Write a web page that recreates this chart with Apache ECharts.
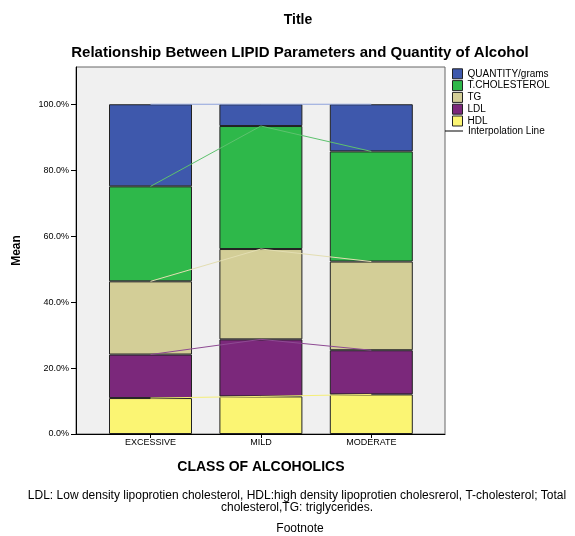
<!DOCTYPE html>
<html>
<head>
<meta charset="utf-8">
<script src="https://cdn.jsdelivr.net/npm/echarts@6/dist/echarts.min.js"></script>
<style>
  html, body { margin: 0; padding: 0; background: #fff; }
  #chart { width: 575px; height: 536px; }
</style>
</head>
<body>
<div id="chart"></div>
<script>
// values (percent of mean total)
const classes = ['EXCESSIVE', 'MILD', 'MODERATE'];
const hdl = [10.9, 11.4, 12.0];
const ldl = [13.2, 17.3, 13.4];
const tg = [22.2, 27.4, 26.9];
const tchol = [28.8, 37.3, 33.4];
const quantity = [24.9, 6.6, 14.3];
const yTicks = [0, 20, 40, 60, 80, 100];

const font = 'Liberation Sans, Arial, sans-serif';
const yMax = 111.3;

function barSeries(name, arr, color) {
    return {
        name: name,
        type: 'bar',
        stack: 'bars',
        barWidth: 83,
        xAxisIndex: 1, yAxisIndex: 1,
        data: arr,
        itemStyle: { color: color, borderColor: '#222', borderWidth: 1 }
    };
}

function lineSeries(arr, color) {
    return {
        name: 'Interpolation Line',
        type: 'line',
        stack: 'lines',
        symbol: 'none',
        xAxisIndex: 1, yAxisIndex: 1,
        data: arr,
        lineStyle: { color: color, width: 1 },
        itemStyle: { color: '#000' },
        z: 5
    };
}

let myChart = echarts.init(document.getElementById('chart'));
myChart.setOption({
    animation: false,
    textStyle: { fontFamily: font },
    title: [
        { text: 'Title', left: 293, top: 8, textAlign: 'center',
          textStyle: { fontSize: 14, fontWeight: 'bold', color: '#000', fontFamily: font } },
        { text: 'Relationship Between LIPID Parameters and Quantity of Alcohol', left: 295, top: 40, textAlign: 'center',
          textStyle: { fontSize: 15, fontWeight: 'bold', color: '#000', fontFamily: font } },
        { text: 'LDL: Low density lipoprotien cholesterol, HDL:high density lipoprotien cholesrerol, T-cholesterol; Total\ncholesterol,TG: triglycerides.',
          left: 292, top: 485, textAlign: 'center',
          textStyle: { fontSize: 12, fontWeight: 'normal', color: '#000', lineHeight: 12, align: 'center', fontFamily: font } },
        { text: 'Footnote', left: 295, top: 518, textAlign: 'center',
          textStyle: { fontSize: 12, fontWeight: 'normal', color: '#000', fontFamily: font } }
    ],
    legend: [
        {
            orient: 'vertical',
            left: 452, top: 68.3, padding: 0,
            itemWidth: 10, itemHeight: 10, itemGap: 0.8,
            icon: 'rect',
            itemStyle: { borderColor: '#222', borderWidth: 1 },
            textStyle: { fontSize: 10, lineHeight: 10, color: '#000' },
            data: ['QUANTITY/grams', 'T.CHOLESTEROL', 'TG', 'LDL', 'HDL']
        },
        {
            orient: 'vertical',
            left: 445, top: 126, padding: 0,
            itemWidth: 18, itemHeight: 1, itemGap: 0,
            textStyle: { fontSize: 10, lineHeight: 10, color: '#000' },
            data: [{ name: 'Interpolation Line', icon: 'rect', itemStyle: { color: '#000', borderWidth: 0 } }]
        }
    ],
    grid: [
        // frame with the grey background
        { left: 76, right: 130, top: 67, bottom: 102,
          show: true, backgroundColor: '#f0f0f0', borderColor: '#666', borderWidth: 1 },
        // data area, one category every 110.4 px
        { left: 95.3, width: 331.2, top: 67, bottom: 102 }
    ],
    xAxis: [
        {
            gridIndex: 0, type: 'value', min: 0, max: 1,
            axisLine: { show: true, onZero: false, lineStyle: { color: '#000' } },
            axisTick: { show: false }, axisLabel: { show: false }, splitLine: { show: false }
        },
        {
            gridIndex: 1, type: 'category', data: classes,
            name: 'CLASS OF ALCOHOLICS',
            nameLocation: 'middle',
            nameGap: 26,
            nameTextStyle: { fontSize: 14, fontWeight: 'bold', color: '#000' },
            axisLine: { show: false },
            axisTick: { show: true, alignWithLabel: true, length: 4, lineStyle: { color: '#000' } },
            axisLabel: { fontSize: 9, color: '#000', margin: 4 }
        }
    ],
    yAxis: [
        {
            gridIndex: 0, type: 'value',
            min: 0, max: yMax,
            name: 'Mean',
            nameLocation: 'middle',
            nameGap: 53,
            nameTextStyle: { fontSize: 12, fontWeight: 'bold', color: '#000' },
            splitLine: { show: false },
            axisLine: { show: true, onZero: false, lineStyle: { color: '#000' } },
            axisTick: { show: true, customValues: yTicks, length: 5, lineStyle: { color: '#000' } },
            axisLabel: {
                customValues: yTicks,
                fontSize: 9, color: '#000', margin: 7,
                formatter: function (v) { return v.toFixed(1) + '%'; }
            }
        },
        {
            gridIndex: 1, type: 'value', min: 0, max: yMax, show: false,
            splitLine: { show: false }
        }
    ],
    series: [
        barSeries('HDL', hdl, '#fbf573'),
        barSeries('LDL', ldl, '#7b287b'),
        barSeries('TG', tg, '#d3ce97'),
        barSeries('T.CHOLESTEROL', tchol, '#2eb84a'),
        barSeries('QUANTITY/grams', quantity, '#3e58ac'),
        lineSeries(hdl, '#f5ee78'),
        lineSeries(ldl, '#8e4a93'),
        lineSeries(tg, '#e3deb2'),
        lineSeries(tchol, '#5ec26e'),
        lineSeries(quantity, '#8fa3dc')
    ]
});
</script>
</body>
</html>
